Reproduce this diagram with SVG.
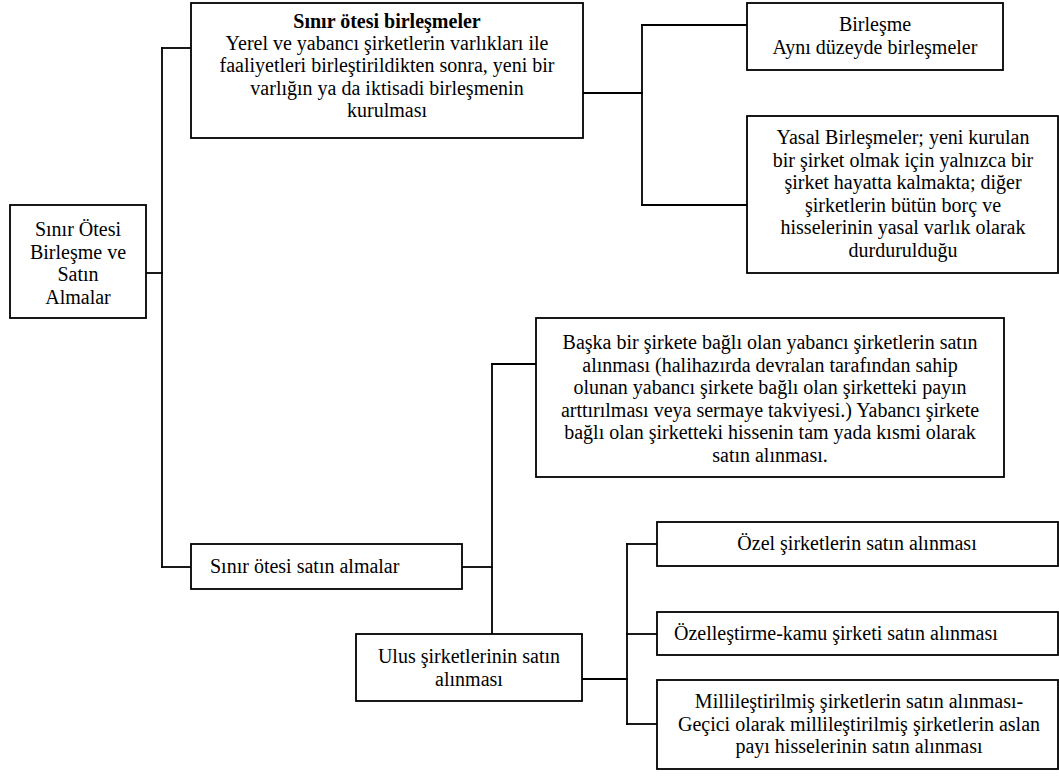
<svg xmlns="http://www.w3.org/2000/svg" width="1059" height="776" viewBox="0 0 1059 776">
<style>
rect.box{fill:#fff;stroke:#000;stroke-width:1.8}
.con line{stroke:#000;stroke-width:1.8;stroke-linecap:square}
text{font-size:20px;fill:#000}
.c{text-anchor:middle}
.b{font-weight:bold}
</style>
<rect x="0" y="0" width="1059" height="776" fill="#fff"/>
<g id="connectors" class="con">
<line x1="146" y1="273" x2="162" y2="273"/>
<line x1="162" y1="48" x2="162" y2="567"/>
<line x1="162" y1="48" x2="191" y2="48"/>
<line x1="162" y1="567" x2="191" y2="567"/>
<line x1="583" y1="93" x2="642" y2="93"/>
<line x1="642" y1="25" x2="642" y2="205"/>
<line x1="642" y1="25" x2="747" y2="25"/>
<line x1="642" y1="205" x2="747" y2="205"/>
<line x1="462" y1="567" x2="492" y2="567"/>
<line x1="492" y1="364" x2="492" y2="634"/>
<line x1="492" y1="364" x2="536" y2="364"/>
<line x1="582" y1="679" x2="627" y2="679"/>
<line x1="627" y1="544" x2="627" y2="724"/>
<line x1="627" y1="544" x2="657" y2="544"/>
<line x1="627" y1="634" x2="657" y2="634"/>
<line x1="627" y1="724" x2="657" y2="724"/>
</g>
<g font-family="Liberation Serif, Times New Roman, DejaVu Serif, serif">
<g id="root">
<rect class="box" x="10" y="205" width="136" height="113"/>
<text class="c" x="78" y="236">Sınır Ötesi</text>
<text class="c" x="78" y="258.5">Birleşme ve</text>
<text class="c" x="78" y="281">Satın</text>
<text class="c" x="78" y="303.5">Almalar</text>
</g>
<g id="mergers">
<rect class="box" x="191" y="3" width="392" height="135"/>
<text class="c b" x="387" y="28">Sınır ötesi birleşmeler</text>
<text class="c" x="387" y="50.2">Yerel ve yabancı şirketlerin varlıkları ile</text>
<text class="c" x="387" y="72.4">faaliyetleri birleştirildikten sonra, yeni bir</text>
<text class="c" x="387" y="94.6">varlığın ya da iktisadi birleşmenin</text>
<text class="c" x="387" y="116.8">kurulması</text>
</g>
<g id="merger">
<rect class="box" x="747" y="3" width="256" height="67"/>
<text class="c" x="875" y="31">Birleşme</text>
<text class="c" x="875" y="54">Aynı düzeyde birleşmeler</text>
</g>
<g id="legal">
<rect class="box" x="747" y="116" width="311" height="157"/>
<text class="c" x="903" y="144">Yasal Birleşmeler; yeni kurulan</text>
<text class="c" x="903" y="166.6">bir şirket olmak için yalnızca bir</text>
<text class="c" x="903" y="189.2">şirket hayatta kalmakta; diğer</text>
<text class="c" x="903" y="211.8">şirketlerin bütün borç ve</text>
<text class="c" x="903" y="234.4">hisselerinin yasal varlık olarak</text>
<text class="c" x="903" y="257">durdurulduğu</text>
</g>
<g id="acquisitions">
<rect class="box" x="191" y="544" width="271" height="45"/>
<text x="210" y="573">Sınır ötesi satın almalar</text>
</g>
<g id="foreign">
<rect class="box" x="536" y="318" width="468" height="159"/>
<text class="c" x="770" y="349">Başka bir şirkete bağlı olan yabancı şirketlerin satın</text>
<text class="c" x="770" y="371.5">alınması (halihazırda devralan tarafından sahip</text>
<text class="c" x="770" y="394">olunan yabancı şirkete bağlı olan şirketteki payın</text>
<text class="c" x="770" y="416.5">arttırılması veya sermaye takviyesi.) Yabancı şirkete</text>
<text class="c" x="770" y="439">bağlı olan şirketteki hissenin tam yada kısmi olarak</text>
<text class="c" x="770" y="461.5">satın alınması.</text>
</g>
<g id="national">
<rect class="box" x="356" y="634" width="226" height="67"/>
<text class="c" x="469" y="663">Ulus şirketlerinin satın</text>
<text class="c" x="469" y="685.5">alınması</text>
</g>
<g id="private">
<rect class="box" x="657" y="522" width="401" height="44"/>
<text class="c" x="857" y="550">Özel şirketlerin satın alınması</text>
</g>
<g id="privatization">
<rect class="box" x="657" y="612" width="401" height="43"/>
<text x="674" y="640">Özelleştirme-kamu şirketi satın alınması</text>
</g>
<g id="nationalized">
<rect class="box" x="657" y="680" width="401" height="89"/>
<text class="c" x="859" y="708">Millileştirilmiş şirketlerin satın alınması-</text>
<text class="c" x="859" y="730.5">Geçici olarak millileştirilmiş şirketlerin aslan</text>
<text class="c" x="859" y="753">payı hisselerinin satın alınması</text>
</g>
</g>
</svg>
